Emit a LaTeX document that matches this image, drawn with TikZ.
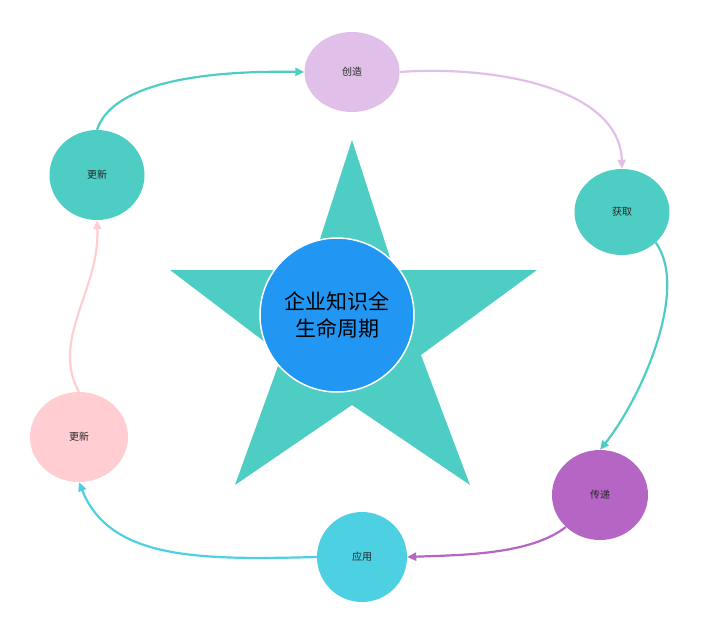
\documentclass[tikz,border=0pt]{standalone}
\usepackage{fontspec}
\setmainfont{Noto Sans CJK SC}
\usetikzlibrary{shapes.geometric,arrows.meta}
\definecolor{teal1}{HTML}{4ECDC4}
\definecolor{lpur}{HTML}{E0C0E8}
\definecolor{pur}{HTML}{B565C4}
\definecolor{cyan1}{HTML}{4DD0E1}
\definecolor{pink1}{HTML}{FFCDD2}
\definecolor{blue1}{HTML}{2196F3}
\begin{document}
\begin{tikzpicture}[x=1pt,y=-1pt,
  blob/.style={ellipse,minimum width=#1,font=\fontsize{10}{12}\selectfont,text=black!85},
  conn/.style={line width=2.2pt,-{Triangle[length=9pt,width=8pt]}}]
\useasboundingbox (0,0) rectangle (716,627);
\fill[teal1] (352,140) -- (394,270) -- (537,270) -- (421,355) -- (470,485) -- (352,405) -- (235,485) -- (282,355) -- (170,270) -- (310,270) -- cycle;
\node[circle,fill=blue1,draw=white,line width=1.5pt,minimum size=154pt,align=center,font=\fontsize{21}{27}\selectfont,text=black] (c) at (337,315) {企业知识全\\生命周期};
\node[blob=95pt,minimum height=80pt,fill=lpur] (a) at (352,72) {创造};
\node[blob=95pt,minimum height=86pt,fill=teal1] (b) at (622,212) {获取};
\node[blob=96pt,minimum height=90pt,fill=pur] (d) at (600,495) {传递};
\node[blob=90pt,minimum height=90pt,fill=cyan1] (e) at (362,557) {应用};
\node[blob=98pt,minimum height=90pt,fill=pink1] (f) at (79,437) {更新};
\node[blob=95pt,minimum height=90pt,fill=teal1] (g) at (97,175) {更新};
\draw[conn,teal1] (g.north) .. controls (110,90) and (180,70) .. (a.west);
\draw[conn,lpur] (a.east) .. controls (500,65) and (620,90) .. (b.north);
\draw[conn,teal1] (b.south east) .. controls (690,290) and (640,400) .. (d.north);
\draw[conn,pur] (d.south west) .. controls (530,555) and (460,555) .. (e.east);
\draw[conn,cyan1] (e.west) .. controls (200,560) and (110,560) .. (f.south);
\draw[conn,pink1] (f.north) .. controls (50,340) and (100,290) .. (g.south);
\end{tikzpicture}
\end{document}
